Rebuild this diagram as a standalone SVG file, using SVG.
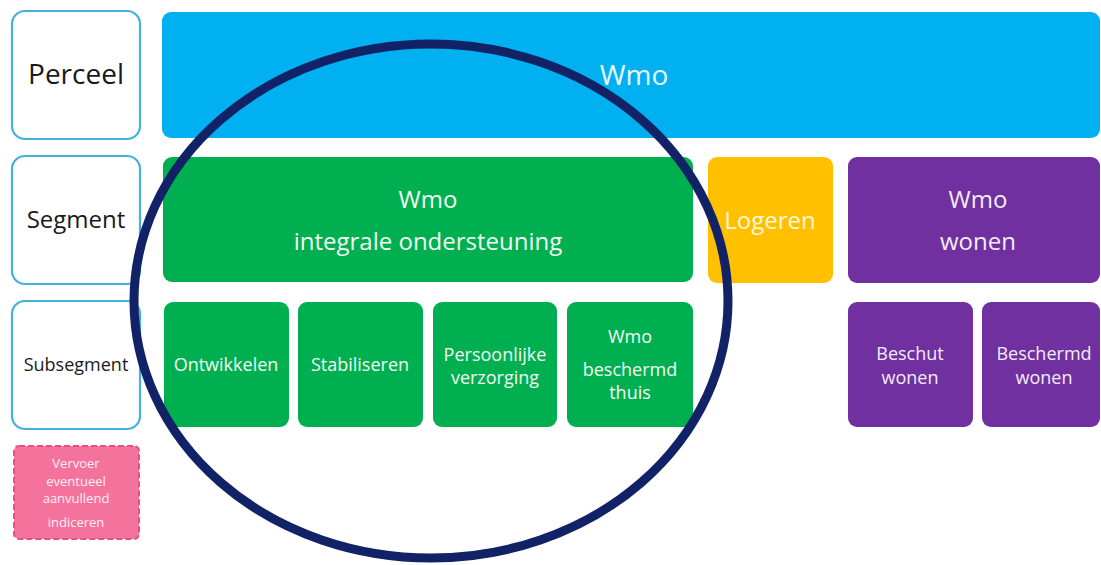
<svg xmlns="http://www.w3.org/2000/svg" width="1101" height="565" viewBox="0 0 1101 565">
  <style>
    text { font-family: "Open Sans", "Liberation Sans", sans-serif; text-anchor: middle; dominant-baseline: central; }
    .lbl { fill: #ffffff; stroke: #41b2dc; stroke-width: 2.2; }
    .lbl-t { fill: #1a1a1a; }
    .blue { fill: #00b0f0; }
    .green { fill: #00b050; }
    .yellow { fill: #ffc000; }
    .purple { fill: #7030a0; }
    .pink { fill: #f3739d; stroke: #e8517f; stroke-width: 2; stroke-dasharray: 6 3; }
    .w { fill: #f2fbf4; }
    .wp { fill: #f3ecf8; }
    .wy { fill: #fff6d8; }
    .wb { fill: #eaf8ff; }
    .wk { fill: #ffeef4; }
    .sub { font-size: 18px; }
    .seg { font-size: 24px; }
    .ring { fill: none; stroke: #112266; stroke-width: 9; }
  </style>

  <!-- level labels -->
  <g id="perceel">
    <rect class="lbl" x="12" y="11" width="128" height="128" rx="13"/>
    <text class="lbl-t" x="76" y="73" font-size="28">Perceel</text>
  </g>
  <g id="segment">
    <rect class="lbl" x="12" y="156" width="128" height="128" rx="13"/>
    <text class="lbl-t" x="76" y="218" font-size="24">Segment</text>
  </g>
  <g id="subsegment">
    <rect class="lbl" x="12" y="301" width="128" height="128" rx="13"/>
    <text class="lbl-t" x="76" y="364" font-size="18">Subsegment</text>
  </g>
  <g id="vervoer">
    <rect class="pink" x="14" y="446" width="125" height="93" rx="5"/>
    <text class="wk" x="76" y="463" font-size="13">Vervoer</text>
    <text class="wk" x="76" y="481" font-size="13">eventueel</text>
    <text class="wk" x="76" y="498" font-size="13">aanvullend</text>
    <text class="wk" x="76" y="522" font-size="13">indiceren</text>
  </g>

  <!-- perceel -->
  <g id="wmo">
    <rect class="blue" x="162" y="12" width="938" height="126" rx="9"/>
    <text class="wb" x="634" y="74" font-size="28">Wmo</text>
  </g>

  <!-- segments -->
  <g id="wmo-integraal">
    <rect class="green" x="163" y="157" width="530" height="125" rx="9"/>
    <text class="w seg" x="428" y="198">Wmo</text>
    <text class="w seg" x="428" y="240">integrale ondersteuning</text>
  </g>
  <g id="logeren">
    <rect class="yellow" x="708" y="157" width="125" height="126" rx="9"/>
    <text class="wy seg" x="770" y="219">Logeren</text>
  </g>
  <g id="wmo-wonen">
    <rect class="purple" x="848" y="157" width="252" height="126" rx="9"/>
    <text class="wp seg" x="978" y="198">Wmo</text>
    <text class="wp seg" x="978" y="240">wonen</text>
  </g>

  <!-- subsegments -->
  <g id="ontwikkelen">
    <rect class="green" x="164" y="302" width="125" height="125" rx="9"/>
    <text class="w sub" x="226" y="364">Ontwikkelen</text>
  </g>
  <g id="stabiliseren">
    <rect class="green" x="298" y="302" width="125" height="125" rx="9"/>
    <text class="w sub" x="360" y="364">Stabiliseren</text>
  </g>
  <g id="persoonlijke-verzorging">
    <rect class="green" x="433" y="302" width="124" height="125" rx="9"/>
    <text class="w sub" x="495" y="354">Persoonlijke</text>
    <text class="w sub" x="495" y="377">verzorging</text>
  </g>
  <g id="wmo-beschermd-thuis">
    <rect class="green" x="567" y="302" width="126" height="125" rx="9"/>
    <text class="w sub" x="630" y="336">Wmo</text>
    <text class="w sub" x="630" y="369">beschermd</text>
    <text class="w sub" x="630" y="392">thuis</text>
  </g>
  <g id="beschut-wonen">
    <rect class="purple" x="848" y="302" width="125" height="125" rx="9"/>
    <text class="wp sub" x="910" y="353">Beschut</text>
    <text class="wp sub" x="910" y="377">wonen</text>
  </g>
  <g id="beschermd-wonen">
    <rect class="purple" x="982" y="302" width="118" height="125" rx="9"/>
    <text class="wp sub" x="1044" y="353">Beschermd</text>
    <text class="wp sub" x="1044" y="377">wonen</text>
  </g>

  <!-- highlight ring around the integral support segment -->
  <g id="connectors">
    <ellipse class="ring" cx="431" cy="301" rx="297" ry="257"/>
  </g>
</svg>
